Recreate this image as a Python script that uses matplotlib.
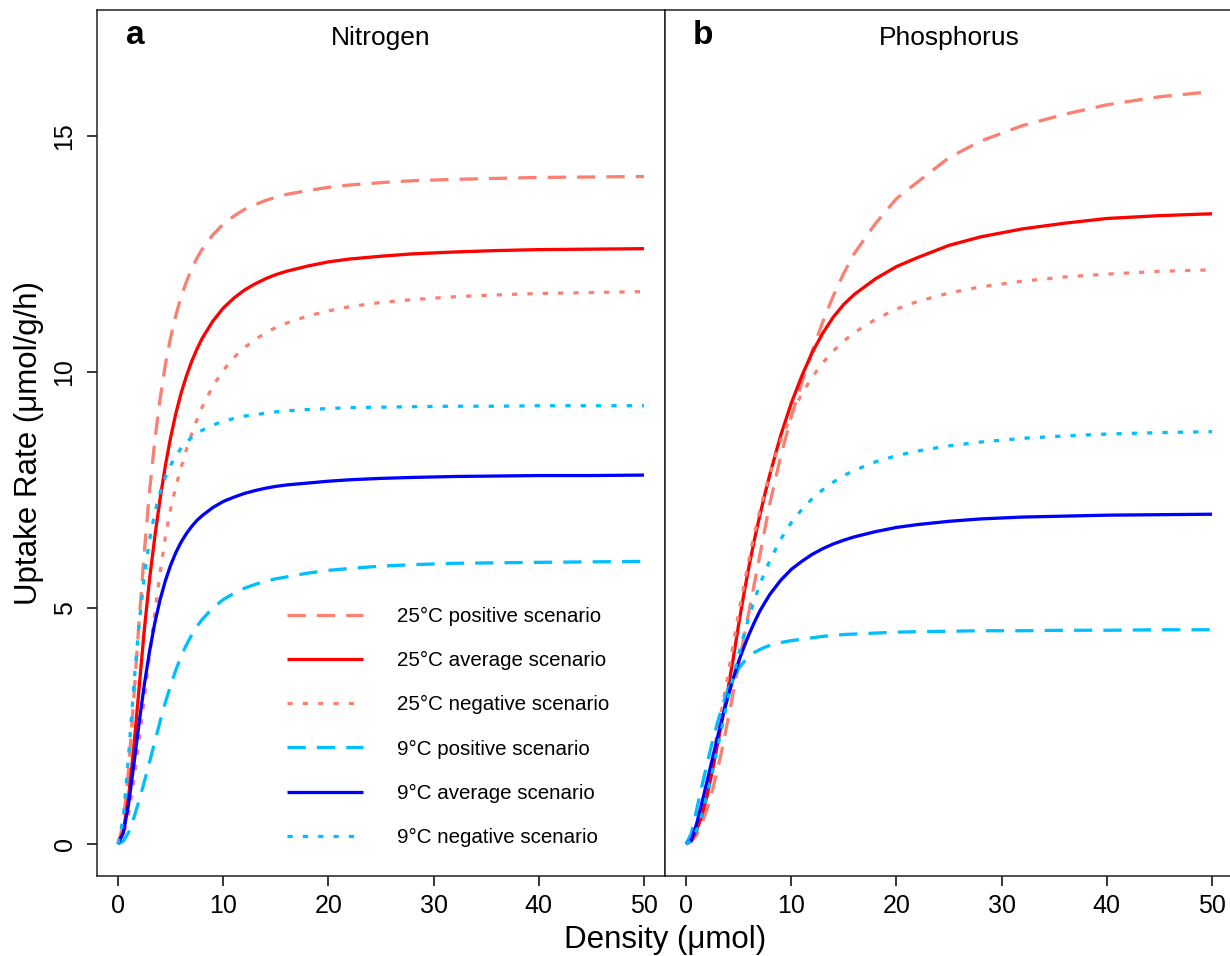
import matplotlib
matplotlib.use('Agg')
import matplotlib.pyplot as plt

plt.rcParams['font.family'] = ['Liberation Sans', 'DejaVu Sans']

# density values (x) shared by all curves
density = [0, 0.5, 1, 1.5, 2, 2.5, 3, 3.5, 4, 4.5, 5, 5.5, 6, 6.5, 7, 7.5, 8,
           9, 10, 11, 12, 13, 14, 15, 16, 18, 20, 22, 25, 28, 32, 36, 40, 45, 50]

# Nitrogen uptake
n_25_pos = [0, 0.43, 1.57, 3.10, 4.71, 6.20, 7.49, 8.56, 9.44, 10.16, 10.74, 11.21,
            11.60, 11.92, 12.19, 12.42, 12.61, 12.91, 13.14, 13.31, 13.45, 13.55, 13.64,
            13.71, 13.77, 13.85, 13.92, 13.97, 14.02, 14.06, 14.09, 14.11, 14.13, 14.14, 14.15]
n_25_avg = [0, 0.26, 0.99, 2.05, 3.30, 4.55, 5.62, 6.52, 7.32, 8.02, 8.62, 9.13,
            9.56, 9.92, 10.23, 10.49, 10.72, 11.08, 11.36, 11.57, 11.74, 11.87, 11.98,
            12.07, 12.14, 12.25, 12.34, 12.40, 12.46, 12.51, 12.55, 12.58, 12.60, 12.61, 12.62]
n_25_neg = [0, 0.17, 0.64, 1.34, 2.19, 3.10, 4.00, 4.90, 5.75, 6.50, 7.10, 7.58,
            7.98, 8.36, 8.69, 8.99, 9.26, 9.70, 10.04, 10.31, 10.52, 10.69, 10.83,
            10.95, 11.04, 11.19, 11.30, 11.39, 11.48, 11.54, 11.60, 11.64, 11.67, 11.69, 11.71]
n_9_pos = [0, 0.06, 0.24, 0.55, 0.92, 1.32, 1.74, 2.17, 2.60, 3.00, 3.36, 3.69,
           3.98, 4.22, 4.43, 4.61, 4.76, 5.00, 5.18, 5.31, 5.42, 5.50, 5.57,
           5.62, 5.66, 5.74, 5.80, 5.84, 5.89, 5.92, 5.95, 5.96, 5.97, 5.98, 5.99]
n_9_avg = [0, 0.23, 0.84, 1.68, 2.56, 3.38, 4.09, 4.69, 5.18, 5.58, 5.91, 6.18,
           6.40, 6.58, 6.73, 6.86, 6.96, 7.13, 7.26, 7.35, 7.43, 7.49, 7.54,
           7.58, 7.61, 7.65, 7.69, 7.72, 7.75, 7.77, 7.79, 7.80, 7.81, 7.81, 7.82]
n_9_neg = [0, 0.55, 1.86, 3.36, 4.66, 5.68, 6.45, 7.03, 7.46, 7.78, 8.03, 8.23,
           8.39, 8.51, 8.62, 8.70, 8.77, 8.88, 8.96, 9.02, 9.07, 9.10, 9.13,
           9.16, 9.18, 9.21, 9.23, 9.25, 9.26, 9.27, 9.28, 9.28, 9.29, 9.29, 9.29]

# Phosphorus uptake
p_25_pos = [0, 0.05, 0.19, 0.43, 0.74, 1.13, 1.58, 2.08, 2.65, 3.22, 3.80, 4.37,
            4.95, 5.52, 6.10, 6.68, 7.25, 8.22, 9.05, 9.78, 10.45, 11.07, 11.62,
            12.10, 12.52, 13.15, 13.68, 14.03, 14.55, 14.90, 15.23, 15.47, 15.67, 15.84, 15.95]
p_25_avg = [0, 0.07, 0.28, 0.60, 1.02, 1.55, 2.12, 2.70, 3.30, 3.95, 4.65, 5.30,
            5.90, 6.45, 6.95, 7.42, 7.86, 8.66, 9.34, 9.92, 10.42, 10.83, 11.17,
            11.44, 11.65, 11.98, 12.24, 12.43, 12.69, 12.87, 13.04, 13.16, 13.26, 13.32, 13.36]
p_25_neg = [0, 0.09, 0.34, 0.73, 1.22, 1.78, 2.38, 2.98, 3.60, 4.25, 4.90, 5.48,
            6.05, 6.57, 7.05, 7.48, 7.88, 8.55, 9.10, 9.54, 9.90, 10.20, 10.45,
            10.66, 10.84, 11.12, 11.34, 11.50, 11.68, 11.81, 11.93, 12.02, 12.08, 12.14, 12.17]
p_9_pos = [0, 0.22, 0.72, 1.22, 1.70, 2.16, 2.58, 2.97, 3.28, 3.53, 3.72, 3.86,
           3.98, 4.06, 4.12, 4.17, 4.21, 4.27, 4.31, 4.34, 4.37, 4.40, 4.42,
           4.44, 4.45, 4.47, 4.49, 4.50, 4.51, 4.52, 4.52, 4.53, 4.53, 4.54, 4.54]
p_9_avg = [0, 0.08, 0.42, 0.86, 1.33, 1.80, 2.27, 2.72, 3.13, 3.52, 3.87, 4.17,
           4.45, 4.70, 4.93, 5.12, 5.30, 5.59, 5.82, 5.99, 6.14, 6.26, 6.36,
           6.44, 6.51, 6.62, 6.71, 6.77, 6.84, 6.89, 6.93, 6.95, 6.97, 6.98, 6.99]
p_9_neg = [0, 0.07, 0.29, 0.62, 1.04, 1.52, 2.04, 2.56, 3.08, 3.56, 4.02, 4.44,
           4.83, 5.17, 5.49, 5.77, 6.02, 6.46, 6.81, 7.09, 7.32, 7.51, 7.67,
           7.81, 7.92, 8.10, 8.23, 8.33, 8.44, 8.52, 8.60, 8.65, 8.69, 8.72, 8.74]

labels = ['25°C positive scenario', '25°C average scenario', '25°C negative scenario',
          '9°C positive scenario', '9°C average scenario', '9°C negative scenario']
colors = ['#FA8072', '#FF0000', '#FA8072', '#00BFFF', '#0000FF', '#00BFFF']
dashes = [(5.6, 3.4), None, (1.6, 3.1), (5.6, 3.4), None, (1.6, 3.1)]

n_series = [n_25_pos, n_25_avg, n_25_neg, n_9_pos, n_9_avg, n_9_neg]
p_series = [p_25_pos, p_25_avg, p_25_neg, p_9_pos, p_9_avg, p_9_neg]

W, H = 1230, 956
fig = plt.figure(figsize=(W / 100, H / 100), dpi=100)
bottom = 1 - 876 / H
height = (876 - 10) / H
ax1 = fig.add_axes([97 / W, bottom, 568 / W, height])
ax2 = fig.add_axes([665 / W, bottom, 568 / W, height])


def draw_panel(ax, series):
    for ys, c, d, lab in zip(series, colors, dashes, labels):
        line, = ax.plot(density, ys, color=c, lw=2.35, label=lab,
                        solid_capstyle='butt', dash_capstyle='butt')
        if d is not None:
            line.set_dashes(d)
    ax.set_xlim(-2, 52)
    ax.set_ylim(-0.68, 17.68)
    ax.set_xticks([0, 10, 20, 30, 40, 50])
    ax.tick_params(axis='both', direction='out', length=7.2, width=1.1,
                   labelsize=18, colors='black')
    ax.tick_params(axis='x', pad=5.5)
    for sp in ax.spines.values():
        sp.set_linewidth(1.1)
        sp.set_color('#222222')


draw_panel(ax1, n_series)
draw_panel(ax2, p_series)

ax1.set_yticks([0, 5, 10, 15])
ax1.tick_params(axis='y', labelrotation=90, pad=7.5)
for lab in ax1.get_yticklabels():
    lab.set_va('center')
ax2.set_yticks([])

# panel letters and titles
ax1.text(0.051, 0.9613, 'a', transform=ax1.transAxes, fontsize=24,
         fontweight='bold', va='baseline', ha='left')
ax1.text(0.5, 0.9596, 'Nitrogen', transform=ax1.transAxes, fontsize=19,
         va='baseline', ha='center')
ax2.text(0.049, 0.9613, 'b', transform=ax2.transAxes, fontsize=24,
         fontweight='bold', va='baseline', ha='left')
ax2.text(0.5, 0.9596, 'Phosphorus', transform=ax2.transAxes, fontsize=19,
         va='baseline', ha='center')

ax1.legend(frameon=False, loc='center left',
           bbox_to_anchor=((287.3 - 97) / 568, (876 - 727) / 866),
           borderpad=0, borderaxespad=0, handlelength=3.68,
           handletextpad=1.66, labelspacing=1.22, fontsize=14.8)

fig.text(29 / W, 1 - 443 / H, 'Uptake Rate (μmol/g/h)', rotation=90,
         ha='center', va='center', fontsize=22.5)
fig.text(665 / W, 1 - 948 / H, 'Density (μmol)', ha='center',
         va='baseline', fontsize=22.5)

fig.savefig('out.png', dpi=100)
